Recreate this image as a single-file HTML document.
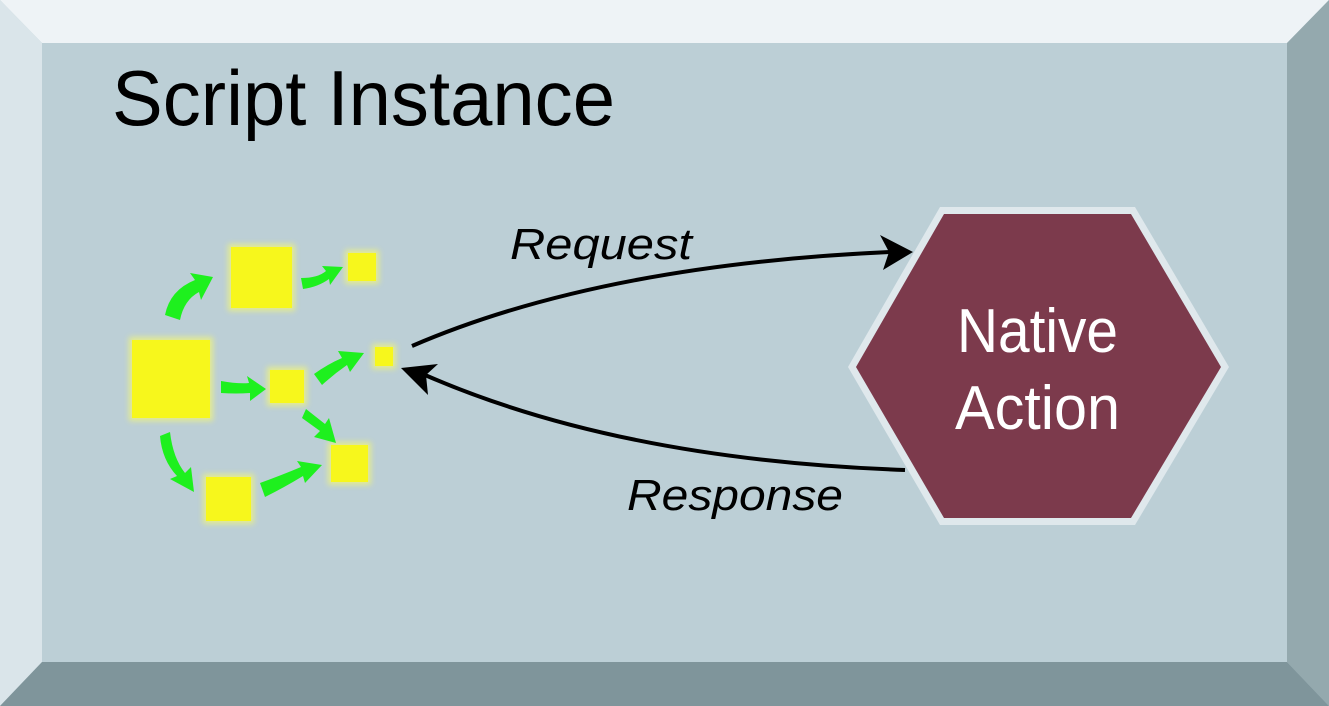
<!DOCTYPE html>
<html><head><meta charset="utf-8"><style>
html,body{margin:0;padding:0;width:1329px;height:706px;overflow:hidden;background:#bccfd6}
svg{display:block}
</style></head><body>
<svg width="1329" height="706" viewBox="0 0 1329 706" xmlns="http://www.w3.org/2000/svg">
<defs>
<filter id="glow" x="-50%" y="-50%" width="200%" height="200%"><feGaussianBlur stdDeviation="3"/></filter>
</defs>
<rect width="1329" height="706" fill="#bccfd6"/>
<polygon points="0,0 1329,0 1287,43 42,43" fill="#eef3f6"/>
<polygon points="0,0 42,43 42,662 0,706" fill="#dae5ea"/>
<polygon points="1329,0 1329,706 1287,662 1287,43" fill="#94a9ae"/>
<polygon points="0,706 42,662 1287,662 1329,706" fill="#7f959b"/>
<text x="112" y="125" font-family="Liberation Sans Narrow, Liberation Sans, sans-serif" font-size="78" fill="#000" textLength="503" lengthAdjust="spacingAndGlyphs">Script Instance</text>

<polygon points="940,207 1135,207 1229,367 1135,525 940,525 848,367" fill="#dfe8ec"/>
<polygon points="944,214 1131,214 1221,367 1131,518 944,518 856,367" fill="#7c3a4c"/>
<text x="957" y="352" font-family="Liberation Sans Narrow, Liberation Sans, sans-serif" font-size="62" fill="#fff" textLength="161" lengthAdjust="spacingAndGlyphs">Native</text>
<text x="955" y="429" font-family="Liberation Sans Narrow, Liberation Sans, sans-serif" font-size="62" fill="#fff" textLength="165" lengthAdjust="spacingAndGlyphs">Action</text>

<g fill="#ffff60" opacity="0.6" filter="url(#glow)">
<rect x="129" y="337" width="84" height="84"/><rect x="228" y="244" width="67" height="67"/>
<rect x="345" y="250" width="34" height="34"/><rect x="267" y="367" width="40" height="39"/>
<rect x="372" y="344" width="24" height="25"/><rect x="328" y="442" width="43" height="43"/>
<rect x="203" y="474" width="51" height="50"/>
</g>
<g fill="#f7f71c">
<rect x="132" y="340" width="78" height="78"/><rect x="231" y="247" width="61" height="61"/>
<rect x="348" y="253" width="28" height="28"/><rect x="270" y="370" width="34" height="33"/>
<rect x="375" y="347" width="18" height="19"/><rect x="331" y="445" width="37" height="37"/>
<rect x="206" y="477" width="45" height="44"/>
</g>
<g fill="#1ef01e">
<path d="M165,315 Q170,290 195,280 L190,273 L213,277 L201,300 L199,292 Q184,300 180,320 Z"/>
<path d="M301,278 Q318,278 326,271 L322,266 L343,267 L330,285 L329,279 Q318,287 303,289 Z"/>
<path d="M221,381 Q238,384 249,383 L247,376 L266,389 L250,401 L250,393 Q236,394 221,393 Z"/>
<path d="M314,374 Q328,364 342,358 L338,351 L364,353 L350,372 L347,365 Q334,374 322,385 Z"/>
<path d="M306,409 L325,424 L329,418 L336,443 L314,437 L320,431 L302,418 Z"/>
<path d="M170,432 Q173,458 185,473 L191,467 L194,492 L170,479 L177,476 Q162,460 160,436 Z"/>
<path d="M260,483 Q282,475 301,467 L297,461 L322,465 L305,483 L303,476 Q285,487 265,497 Z"/>
</g>

<path d="M412,346 Q600,265 890,252" fill="none" stroke="#000" stroke-width="4"/>
<path d="M913,252 L880,235 L889,252 L883,270 Z" fill="#000"/>
<path d="M905,470 Q620,460 425,375" fill="none" stroke="#000" stroke-width="4"/>
<path d="M401,368 L438,364 L426,375 L428,395 Z" fill="#000"/>

<text x="510" y="259" font-family="Liberation Sans Narrow, Liberation Sans, sans-serif" font-style="italic" font-size="44" fill="#000" textLength="182" lengthAdjust="spacingAndGlyphs">Request</text>
<text x="627" y="510" font-family="Liberation Sans Narrow, Liberation Sans, sans-serif" font-style="italic" font-size="44" fill="#000" textLength="216" lengthAdjust="spacingAndGlyphs">Response</text>
</svg>
</body></html>
